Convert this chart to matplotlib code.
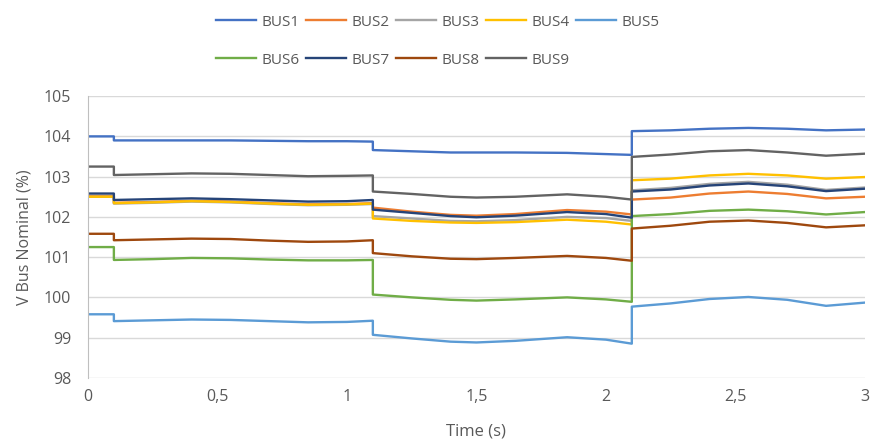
import matplotlib
matplotlib.use("Agg")
import matplotlib.pyplot as plt
from matplotlib.ticker import FuncFormatter, MultipleLocator

t = [0, 0.1, 0.1, 0.25, 0.4, 0.55, 0.7, 0.85, 1.0, 1.1, 1.1, 1.25, 1.4, 1.5, 1.65, 1.85, 2.0, 2.1,
     2.1, 2.25, 2.4, 2.55, 2.7, 2.85, 3.0]

bus1 = [104.0, 104.0, 103.9, 103.9, 103.9, 103.9, 103.89, 103.88, 103.88, 103.87, 103.66, 103.63, 103.6,
        103.6, 103.6, 103.59, 103.56, 103.54, 104.13, 104.15, 104.19, 104.21, 104.19, 104.15, 104.17]
bus2 = [102.52, 102.52, 102.35, 102.37, 102.4, 102.38, 102.34, 102.31, 102.32, 102.34, 102.23, 102.13, 102.05,
        102.03, 102.07, 102.17, 102.13, 102.06, 102.43, 102.48, 102.58, 102.63, 102.57, 102.46, 102.50]
bus3 = [102.5, 102.5, 102.33, 102.35, 102.38, 102.36, 102.32, 102.29, 102.3, 102.32, 102.02, 101.96, 101.9,
        101.89, 101.92, 102.0, 101.97, 101.9, 102.66, 102.72, 102.82, 102.87, 102.8, 102.67, 102.73]
bus4 = [102.5, 102.5, 102.34, 102.36, 102.39, 102.37, 102.33, 102.3, 102.31, 102.33, 101.96, 101.9, 101.86,
        101.85, 101.87, 101.93, 101.88, 101.81, 102.91, 102.95, 103.03, 103.07, 103.03, 102.95, 102.99]
bus5 = [99.58, 99.58, 99.41, 99.43, 99.45, 99.44, 99.41, 99.38, 99.39, 99.42, 99.07, 98.98, 98.9,
        98.88, 98.92, 99.01, 98.95, 98.85, 99.77, 99.85, 99.96, 100.01, 99.94, 99.79, 99.87]
bus6 = [101.25, 101.25, 100.93, 100.95, 100.98, 100.97, 100.94, 100.92, 100.92, 100.93, 100.07, 100.0, 99.94,
        99.92, 99.95, 100.0, 99.95, 99.89, 102.02, 102.07, 102.15, 102.18, 102.14, 102.06, 102.12]
bus7 = [102.58, 102.58, 102.42, 102.44, 102.46, 102.44, 102.41, 102.38, 102.39, 102.42, 102.18, 102.1, 102.02,
        101.99, 102.03, 102.12, 102.07, 101.98, 102.63, 102.68, 102.78, 102.83, 102.76, 102.64, 102.70]
bus8 = [101.58, 101.58, 101.42, 101.44, 101.46, 101.45, 101.41, 101.38, 101.39, 101.42, 101.1, 101.02, 100.96,
        100.95, 100.98, 101.03, 100.98, 100.91, 101.71, 101.78, 101.88, 101.91, 101.85, 101.74, 101.79]
bus9 = [103.25, 103.25, 103.04, 103.06, 103.08, 103.07, 103.04, 103.01, 103.02, 103.03, 102.63, 102.57, 102.5,
        102.48, 102.5, 102.56, 102.5, 102.43, 103.49, 103.55, 103.63, 103.66, 103.6, 103.52, 103.57]

names = ["BUS1", "BUS2", "BUS3", "BUS4", "BUS5", "BUS6", "BUS7", "BUS8", "BUS9"]
series = [bus1, bus2, bus3, bus4, bus5, bus6, bus7, bus8, bus9]
colors = ["#4472C4", "#ED7D31", "#A5A5A5", "#FFC000", "#5B9BD5",
          "#70AD47", "#264478", "#9E480E", "#636363"]

plt.rcParams['font.family'] = ['Open Sans', 'DejaVu Sans']
txt = "#595959"

fig = plt.figure(figsize=(8.71, 4.43), dpi=100)
ax = fig.add_axes([0.101, 0.147, 0.892, 0.636])

handles = []
for name, ys, c in zip(names, series, colors):
    h, = ax.plot(t, ys, color=c, lw=1.7, label=name, solid_joinstyle='round')
    handles.append(h)

ax.set_xlim(0, 3)
ax.set_ylim(98, 105)
ax.xaxis.set_major_locator(MultipleLocator(0.5))
ax.yaxis.set_major_locator(MultipleLocator(1))
ax.xaxis.set_major_formatter(FuncFormatter(lambda v, p: ("%g" % v).replace(".", ",")))
ax.grid(axis='y', color="#D9D9D9", lw=1)
ax.set_axisbelow(True)
for s in ["top", "right", "bottom"]:
    ax.spines[s].set_visible(False)
ax.spines["left"].set_color("#BFBFBF")
ax.tick_params(axis='y', length=0, colors=txt, labelsize=11.5, pad=12)
ax.tick_params(axis='x', length=0, colors=txt, labelsize=11.5, pad=8)
ax.set_xlabel("Time (s)", color=txt, fontsize=12, labelpad=13)
ax.set_ylabel("V Bus Nominal (%)", color=txt, fontsize=11.5, labelpad=8)

order = [0, 5, 1, 6, 2, 7, 3, 8, 4]
leg = fig.legend([handles[i] for i in order], [names[i] for i in order], ncol=5,
                 loc="upper left", bbox_to_anchor=(0.232, 0.998), frameon=False,
                 fontsize=11, handlelength=2.6, handletextpad=0.4, columnspacing=0.4,
                 labelspacing=1.5, labelcolor=txt)

fig.savefig("out.png", dpi=100)
